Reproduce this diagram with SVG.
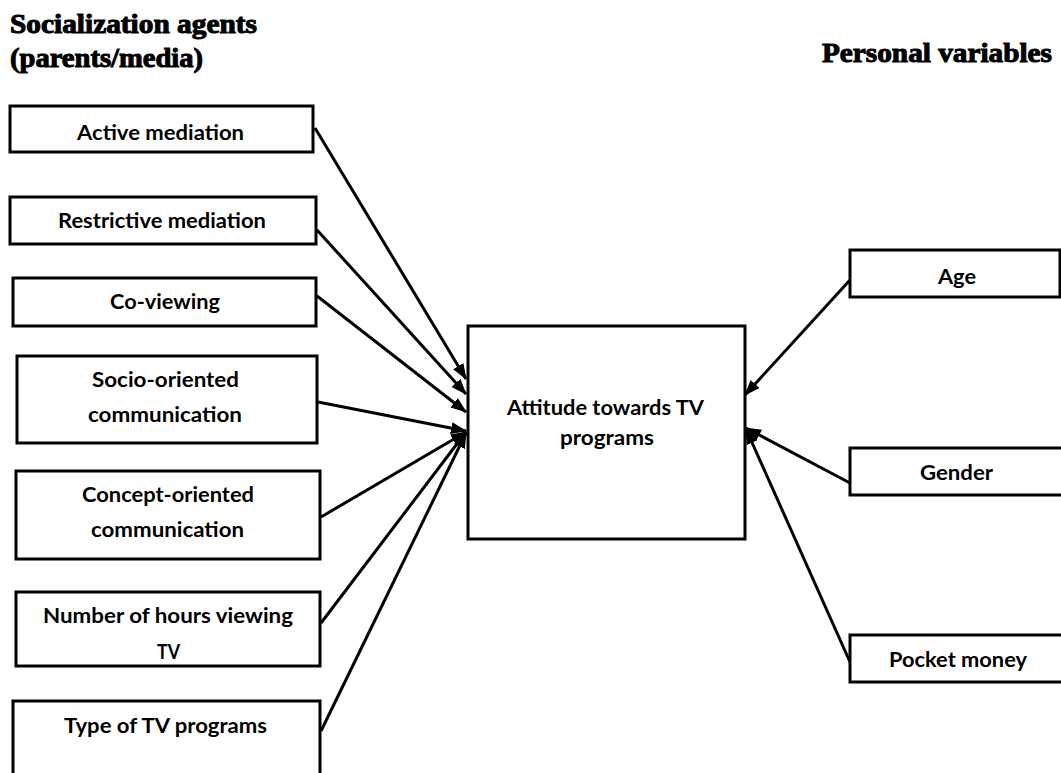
<svg xmlns="http://www.w3.org/2000/svg" width="1061" height="773" viewBox="0 0 1061 773">
<style>
.box{fill:#fff;stroke:#000;stroke-width:3}
.lbl{font-family:Lato,"Liberation Sans",sans-serif;font-weight:700;font-size:20px;fill:#000;text-anchor:start}
.hdr{font-family:"Liberation Serif",serif;font-weight:700;font-size:27px;fill:#000;stroke:#000;stroke-width:1}
.con{stroke:#000;stroke-width:3;fill:none;marker-end:url(#ah)}
</style>
<defs>
<marker id="ah" markerUnits="userSpaceOnUse" markerWidth="16" markerHeight="12" viewBox="0 0 16 12" refX="15" refY="6" orient="auto">
<path d="M0,0 L16,6 L0,12 Z" fill="#000"/>
</marker>
</defs>
<rect width="1061" height="773" fill="#fff"/>
<g id="headers">
<text class="hdr" x="10" y="33" textLength="247" lengthAdjust="spacingAndGlyphs">Socialization agents</text>
<text class="hdr" x="10" y="67" textLength="193" lengthAdjust="spacingAndGlyphs">(parents/media)</text>
<text class="hdr" x="822" y="62" textLength="230" lengthAdjust="spacingAndGlyphs">Personal variables</text>
</g>
<g id="connectors">
<line class="con" x1="315" y1="128" x2="466" y2="379"/>
<line class="con" x1="317" y1="230" x2="466" y2="394"/>
<line class="con" x1="317" y1="296" x2="466" y2="412"/>
<line class="con" x1="318" y1="402" x2="466" y2="431"/>
<line class="con" x1="321" y1="517" x2="466" y2="432"/>
<line class="con" x1="321" y1="623" x2="466" y2="432" stroke-width="4"/>
<line class="con" x1="321" y1="731" x2="466" y2="433"/>
<line class="con" x1="850" y1="280" x2="745" y2="395"/>
<line class="con" x1="850" y1="483" x2="746" y2="428"/>
<line class="con" x1="850" y1="662" x2="746" y2="429"/>
</g>
<g id="n-active"><rect class="box" x="10" y="106" width="303" height="46"/><text class="lbl" x="77" y="140" textLength="167" lengthAdjust="spacingAndGlyphs">Active mediation</text></g>
<g id="n-restrictive"><rect class="box" x="10" y="197" width="306" height="47"/><text class="lbl" x="58" y="228" textLength="208" lengthAdjust="spacingAndGlyphs">Restrictive mediation</text></g>
<g id="n-coviewing"><rect class="box" x="13" y="278" width="303" height="48"/><text class="lbl" x="110" y="309" textLength="110" lengthAdjust="spacingAndGlyphs">Co-viewing</text></g>
<g id="n-socio"><rect class="box" x="17" y="356" width="300" height="87"/><text class="lbl" x="92" y="387" textLength="147" lengthAdjust="spacingAndGlyphs">Socio-oriented</text><text class="lbl" x="88" y="422" textLength="154" lengthAdjust="spacingAndGlyphs">communication</text></g>
<g id="n-concept"><rect class="box" x="16" y="471" width="304" height="88"/><text class="lbl" x="82" y="502" textLength="172" lengthAdjust="spacingAndGlyphs">Concept-oriented</text><text class="lbl" x="91" y="537" textLength="153" lengthAdjust="spacingAndGlyphs">communication</text></g>
<g id="n-hours"><rect class="box" x="16" y="592" width="304" height="74"/><text class="lbl" x="43" y="623" textLength="250" lengthAdjust="spacingAndGlyphs">Number of hours viewing</text><text class="lbl" x="157" y="659" textLength="23" lengthAdjust="spacingAndGlyphs">TV</text></g>
<g id="n-type"><rect class="box" x="13" y="701" width="307" height="90"/><text class="lbl" x="64" y="733" textLength="203" lengthAdjust="spacingAndGlyphs">Type of TV programs</text></g>
<g id="n-attitude"><rect class="box" x="468" y="326" width="277" height="213"/><text class="lbl" x="507" y="415" textLength="197" lengthAdjust="spacingAndGlyphs">Attitude towards TV</text><text class="lbl" x="560" y="445" textLength="94" lengthAdjust="spacingAndGlyphs">programs</text></g>
<g id="n-age"><rect class="box" x="850" y="250" width="210" height="47"/><text class="lbl" x="938" y="284" textLength="38" lengthAdjust="spacingAndGlyphs">Age</text></g>
<g id="n-gender"><rect class="box" x="850" y="448" width="213" height="47"/><text class="lbl" x="920" y="480" textLength="73" lengthAdjust="spacingAndGlyphs">Gender</text></g>
<g id="n-pocket"><rect class="box" x="850" y="635" width="213" height="47"/><text class="lbl" x="889" y="667" textLength="138" lengthAdjust="spacingAndGlyphs">Pocket money</text></g>
</svg>
